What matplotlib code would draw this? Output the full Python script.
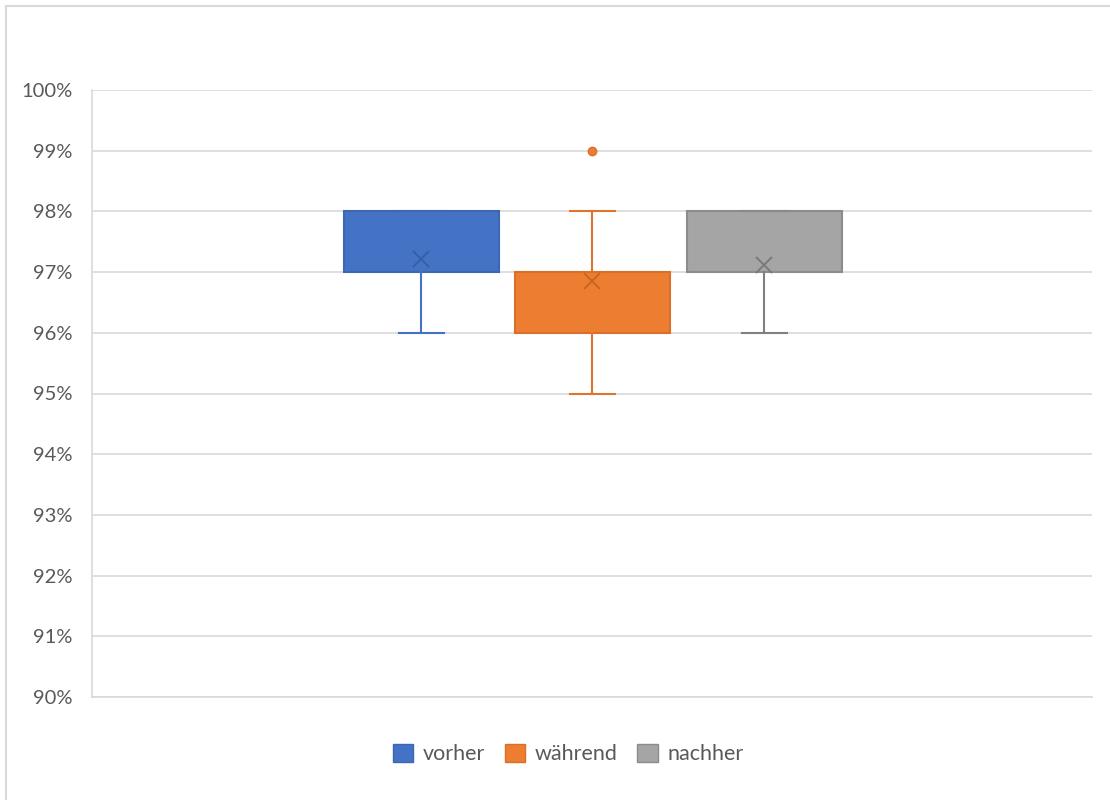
import matplotlib
matplotlib.use("Agg")
from matplotlib import pyplot as plt
from matplotlib.lines import Line2D
from matplotlib.patches import Patch
from matplotlib.ticker import FuncFormatter

# box statistics per phase, in percent
series = ["vorher", "während", "nachher"]
q1 = [97, 96, 97]
median = [98, 97, 98]
q3 = [98, 97, 98]
whisker_low = [96, 95, 96]
whisker_high = [98, 98, 98]
means = [97.22, 96.85, 97.12]
outliers = [[], [99], []]

fill_colors = ["#4472C4", "#ED7D31", "#A5A5A5"]
edge_colors = ["#3B67B5", "#D9702A", "#8C8C8C"]
line_colors = ["#4472C4", "#E0742C", "#808080"]
mean_colors = ["#3560A8", "#C9651F", "#7A7A7A"]

TEXT_GREY = "#595959"
GRID_GREY = "#D9D9D9"
FONT = ["Lato", "DejaVu Sans"]

fig = plt.figure(figsize=(11.1, 8.0), dpi=100)
ax = fig.add_axes([92 / 1110, 103 / 800, 1000 / 1110, 607 / 800])

positions = [0.329, 0.5, 0.672]
for i, name in enumerate(series):
    stats = [{
        "q1": q1[i], "med": median[i], "q3": q3[i],
        "whislo": whisker_low[i], "whishi": whisker_high[i],
        "mean": means[i], "fliers": outliers[i], "label": name,
    }]
    ax.bxp(stats, positions=[positions[i]], widths=0.155, capwidths=0.045,
           patch_artist=True, showmeans=True, manage_ticks=False,
           boxprops=dict(facecolor=fill_colors[i], edgecolor=edge_colors[i], linewidth=1.5),
           medianprops=dict(color=edge_colors[i], linewidth=1.2),
           whiskerprops=dict(color=line_colors[i], linewidth=1.5),
           capprops=dict(color=line_colors[i], linewidth=1.5),
           meanprops=dict(marker="x", markersize=12, markeredgewidth=1.4,
                          markeredgecolor=mean_colors[i]),
           flierprops=dict(marker="o", markersize=6, markerfacecolor=fill_colors[i],
                           markeredgecolor=edge_colors[i]),
           zorder=3)

ax.set_xlim(0, 1)
ax.set_ylim(90, 100)
ax.set_yticks(range(90, 101))
ax.yaxis.set_major_formatter(FuncFormatter(lambda v, _: f"{v:.0f}%"))
ax.set_xticks([])
ax.tick_params(axis="y", length=0, pad=14, labelsize=14.5, labelcolor=TEXT_GREY)
for lbl in ax.get_yticklabels():
    lbl.set_family(FONT)
ax.grid(axis="y", color=GRID_GREY, linewidth=1.2, zorder=0)
ax.set_axisbelow(True)
for side in ["top", "right"]:
    ax.spines[side].set_visible(False)
for side in ["left", "bottom"]:
    ax.spines[side].set_color(GRID_GREY)
    ax.spines[side].set_linewidth(1.2)

# chart area border
fig.add_artist(Line2D([6 / 1110, 6 / 1110], [0, 1 - 6 / 800], color=GRID_GREY, linewidth=1.5))
fig.add_artist(Line2D([6 / 1110, 1], [1 - 6 / 800, 1 - 6 / 800], color=GRID_GREY, linewidth=1.5))

handles = [Patch(facecolor=fill_colors[i], edgecolor=edge_colors[i], label=series[i])
           for i in range(len(series))]
fig.legend(handles=handles, loc="center", bbox_to_anchor=(0.512, 46 / 800), ncol=3,
           frameon=False, handlelength=0.95, handleheight=0.95, handletextpad=0.45,
           columnspacing=0.9, prop={"family": FONT, "size": 15.5},
           labelcolor=TEXT_GREY)

fig.savefig("out.png", dpi=100)
